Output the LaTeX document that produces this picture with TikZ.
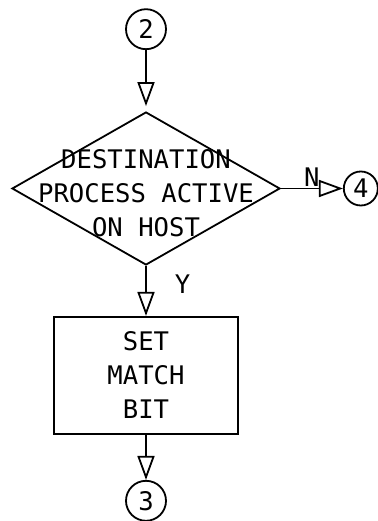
\documentclass[tikz,border=0pt]{standalone}
\usepackage{fontspec}
\newfontfamily\chartfont{DejaVu Sans Mono}
\usetikzlibrary{positioning,arrows.meta,shapes.geometric}

\begin{document}
\begin{tikzpicture}[
  decision/.style = {diamond, draw, line width=1.8pt, inner sep=0pt,
                     minimum width=268pt, minimum height=153pt},
  process/.style  = {rectangle, draw, line width=2pt, align=center,
                     minimum width=184pt, minimum height=117pt},
  conn/.style     = {circle, draw, line width=1.8pt, inner sep=0pt,
                     minimum size=40pt},
  flow/.style     = {-{Triangle[open,length=24pt,width=17pt]}, line width=1.8pt},
  every node/.style = {font=\chartfont\fontsize{25.6}{34}\selectfont},
  node distance = 50pt
]
\useasboundingbox (-146pt,-332.5pt) rectangle (231pt,188.5pt);

\node[decision] (dest) at (0,0) {};
\node[align=center, yshift=-5pt] (dest-txt) at (dest) {DESTINATION\\PROCESS ACTIVE\\ON HOST};

\node[conn, above=61pt of dest] (c2) {2};
\node[conn, minimum size=34pt, right=62pt of dest] (c4) {4};
\node[process, below=of dest] (match) {SET\\MATCH\\BIT};
\node[conn, below=45pt of match] (c3) {3};

\draw[flow, shorten >=5pt] (c2) -- (dest);
\draw[flow] (dest) -- node[midway, above, inner sep=1pt] (n-lbl) {N} (c4);
\draw[flow] (dest) -- node[pos=0.36, right=28pt, inner sep=0pt] (y-lbl) {Y} (match);
\draw[flow] (match) -- (c3);
\end{tikzpicture}
\end{document}
